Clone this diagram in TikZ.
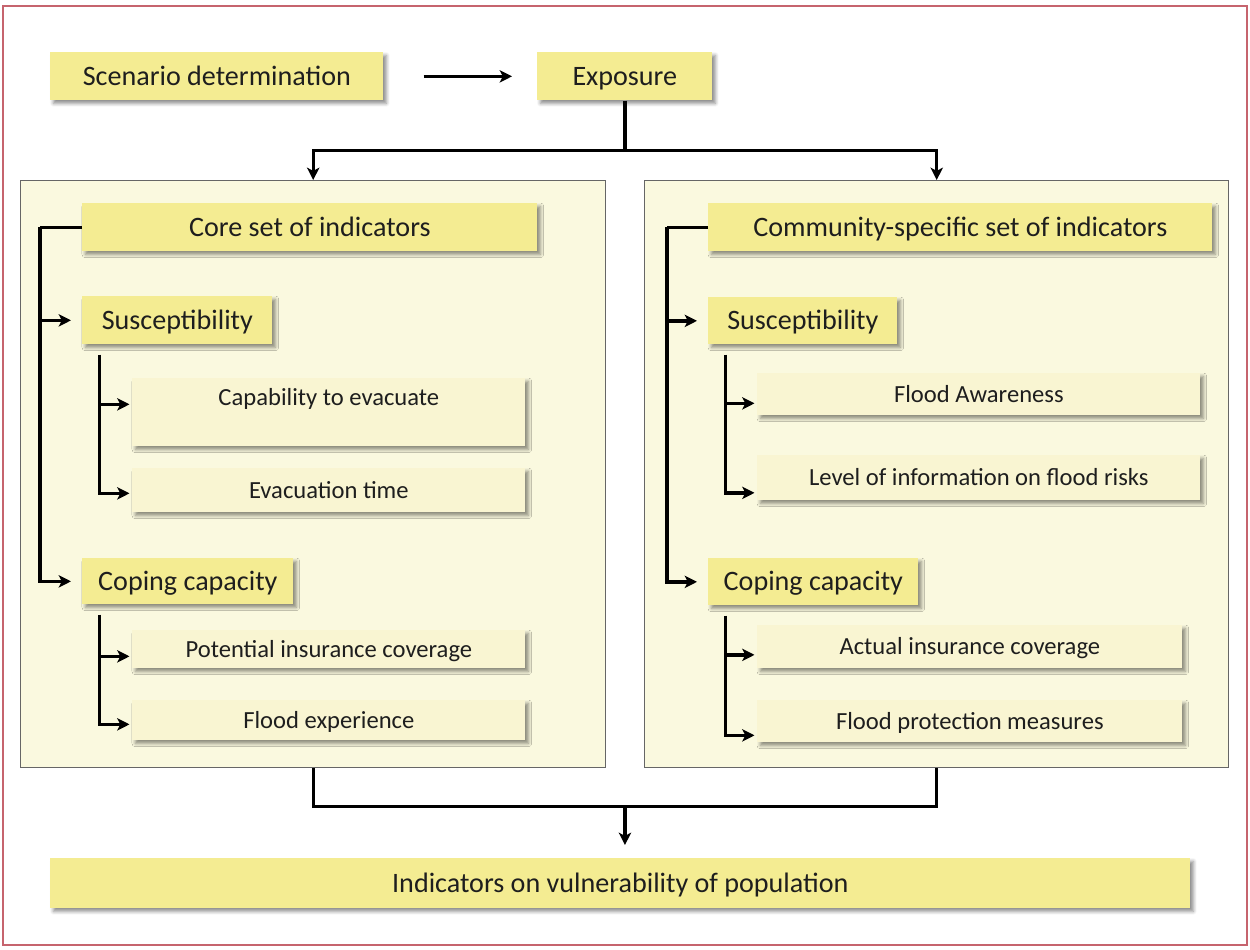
\documentclass[tikz,border=0pt]{standalone}
\usepackage{fontspec}
\setmainfont{Carlito}
\usepackage{tikz}
\usepackage{xcolor}
\usetikzlibrary{calc,shapes,arrows.meta,shadows.blur}
\definecolor{boxyellow}{RGB}{244,236,146}
\definecolor{panelfill}{RGB}{250,249,223}
\definecolor{itemfill}{RGB}{249,245,210}
\definecolor{framered}{RGB}{198,100,110}
\definecolor{txt}{RGB}{30,30,30}

\begin{document}
\begin{tikzpicture}[box/.style={rectangle, anchor=north west, inner sep=0, fill=boxyellow, text=txt, font=\fontsize{16}{19}\selectfont, text height=13pt, text depth=3pt, blur shadow={shadow xshift=0.6mm, shadow yshift=-0.6mm, shadow blur steps=4, shadow opacity=45}},
	item/.style={box, fill=itemfill, font=\fontsize{14}{17}\selectfont, text height=11.8pt, text depth=3pt},
	panel/.style={rectangle, anchor=north west, inner sep=0, fill=panelfill, draw=black!60, line width=0.8pt, minimum height=11.74cm},
	link/.style={line width=1.9pt, black},
	arr/.style={link, -{Stealth[length=7pt,width=7pt,inset=1.8pt]}}]

	\useasboundingbox (0,0) rectangle (25,-18.98);
	\draw[framered, line width=0.9pt] (0.06,-0.12) rectangle (24.94,-18.9);

	%scenario and exposure
	\node[box, minimum width=6.66cm, minimum height=0.96cm] at (1.0,-1.04) (scen) {Scenario determination};
	\node[box, minimum width=3.5cm, minimum height=0.96cm] at (10.74,-1.04) (expo) {Exposure};

	%panels
	\node[panel, minimum width=11.7cm] at (0.4,-3.6) (lpanel) {};
	\node[panel, minimum width=11.68cm] at (12.88,-3.6) (rpanel) {};

	%core set
	\node[box, minimum width=9.1cm, minimum height=0.96cm] at (1.64,-4.06) (core) {Core set of indicators};
	\node[box, minimum width=3.8cm, minimum height=0.96cm] at (1.64,-5.92) (sus1) {Susceptibility};
	\node[item, minimum width=7.86cm, minimum height=1.36cm, text height=15.6pt, text depth=22.9pt] at (2.64,-7.56) (capa) {Capability to evacuate};
	\node[item, minimum width=7.86cm, minimum height=0.88cm] at (2.64,-9.36) (evac) {Evacuation time};
	\node[box, minimum width=4.22cm, minimum height=0.92cm] at (1.64,-11.16) (cop1) {Coping capacity};
	\node[item, minimum width=7.86cm, minimum height=0.76cm] at (2.64,-12.6) (pins) {Potential insurance coverage};
	\node[item, minimum width=7.86cm, minimum height=0.8cm] at (2.64,-14.0) (fexp) {Flood experience};

	%community-specific set
	\node[box, minimum width=10.08cm, minimum height=0.96cm] at (14.16,-4.06) (comm) {Community-specific set of indicators};
	\node[box, minimum width=3.78cm, minimum height=0.94cm] at (14.16,-5.94) (sus2) {Susceptibility};
	\node[item, minimum width=8.86cm, minimum height=0.84cm] at (15.14,-7.46) (faw) {Flood Awareness};
	\node[item, minimum width=8.86cm, minimum height=0.9cm] at (15.14,-9.1) (lev) {Level of information on flood risks};
	\node[box, minimum width=4.2cm, minimum height=0.94cm] at (14.16,-11.16) (cop2) {Coping capacity};
	\node[item, minimum width=8.5cm, minimum height=0.86cm] at (15.14,-12.5) (ains) {Actual insurance coverage};
	\node[item, minimum width=8.5cm, minimum height=0.84cm] at (15.14,-14.0) (fprot) {Flood protection measures};

	%result
	\node[box, minimum width=22.8cm, minimum height=1.0cm] at (1.0,-17.16) (pop) {Indicators on vulnerability of population};

	%top connectors
	\draw[arr, shorten <=0.8cm, shorten >=0.5cm] (scen) -- (expo);
	\draw[link] (expo.south) -- ++(0,-1cm) coordinate (split);
	\draw[arr] (split) -| (lpanel.north);
	\draw[arr] (split) -| (rpanel.north);

	%bottom connectors
	\coordinate (join) at ($(lpanel.south)!0.5!(rpanel.south) + (0,-0.76)$);
	\draw[link] (lpanel.south) |- (join) -| (rpanel.south);
	\draw[arr, shorten >=0.26cm] (join) -- (join |- pop.north);

	%brackets
	\draw[link] (core.west) -- ++(-0.84,0) coordinate (lb);
	\draw[link] (comm.west) -- ++(-0.82,0) coordinate (rb);
	\foreach \s/\t/\c in {lb/sus1/cop1, rb/sus2/cop2} {
		\draw[arr, shorten >=0.22cm] (\s) |- (\c.west);
		\draw[arr, shorten >=0.22cm] (\s |- \t.west) -- (\t.west);
	}
	\foreach \g/\a/\oa/\b/\ob in {sus1/capa/0.16/evac/-0.06, cop1/pins/-0.14/fexp/-0.08, sus2/faw/-0.18/lev/-0.3, cop2/ains/-0.16/fprot/-0.28} {
		\coordinate (\g-top) at ([xshift=0.35cm,yshift=-0.2cm]\g.south west);
		\coordinate (\a-in) at ([yshift=\oa cm]\a.west);
		\coordinate (\b-in) at ([yshift=\ob cm]\b.west);
		\draw[arr, shorten >=0.05cm] (\g-top) |- (\b-in);
		\draw[arr, shorten >=0.05cm] (\g-top |- \a-in) -- (\a-in);
	}
\end{tikzpicture}
\end{document}
